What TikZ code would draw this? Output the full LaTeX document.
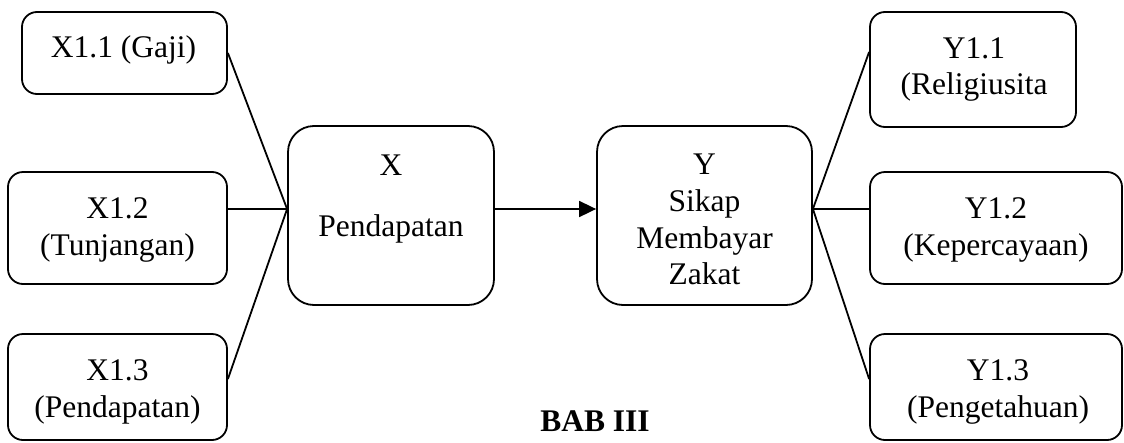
\documentclass[tikz,border=0pt]{standalone}
\usepackage{fontspec}
\setmainfont{Liberation Serif}
\usetikzlibrary{arrows.meta}
\begin{document}
\begin{tikzpicture}[x=1pt,y=-1pt,
  line width=1.8pt,
  sbox/.style={draw, rounded corners=15pt, inner sep=0pt},
  bbox/.style={draw, rounded corners=26pt, inner sep=0pt},
  txt/.style={align=center, inner sep=0pt, font=\fontsize{31.5}{36.7}\selectfont},
  link/.style={line width=1.8pt},
  flow/.style={line width=1.8pt, -{Triangle[length=17pt,width=16pt]}},
]
\useasboundingbox (0,0) rectangle (1124,442);

% indicator boxes of X
\node[sbox, minimum width=205pt, minimum height=82pt]  (x11) at (124.5,53)  {};
\node[sbox, minimum width=219pt, minimum height=112pt] (x12) at (117.5,228) {};
\node[sbox, minimum width=219pt, minimum height=106pt] (x13) at (117.5,387) {};
% main variables
\node[bbox, minimum width=206pt, minimum height=179pt] (x) at (391,215.5)   {};
\node[bbox, minimum width=215pt, minimum height=179pt] (y) at (704.5,215.5) {};
% indicator boxes of Y
\node[sbox, minimum width=206pt, minimum height=115pt] (y11) at (973,69.5) {};
\node[sbox, minimum width=252pt, minimum height=112pt] (y12) at (996,228)  {};
\node[sbox, minimum width=252pt, minimum height=106pt] (y13) at (996,387)  {};

% labels
\node[txt] (tx11) at (123.5,50)  {X1.1 (Gaji)};
\node[txt] (tx12) at (117.5,230) {X1.2\\(Tunjangan)};
\node[txt] (tx13) at (117.5,392) {X1.3\\(Pendapatan)};
\node[txt] (tx)   at (391,199)   {X\\[25pt]Pendapatan};
\node[txt] (ty)   at (704.5,219.5) {Y\\Sikap\\Membayar\\Zakat};
\node[txt] (ty11) at (974,69.5)  {Y1.1\\(Religiusita};
\node[txt] (ty12) at (996,230)   {Y1.2\\(Kepercayaan)};
\node[txt] (ty13) at (998,392)   {Y1.3\\(Pengetahuan)};
\node[txt, font=\fontsize{31.5}{36.7}\selectfont\bfseries, anchor=base] (bab) at (595,431) {BAB III};

% connectors
\coordinate (xin)  at ([yshift=6.5pt]x.west);
\coordinate (yout) at (y.east |- xin);
\draw[link] (x11.east) -- (xin);
\draw[link] (x12.east |- xin) -- (xin);
\draw[link] ([yshift=8pt]x13.east) -- (xin);
\draw[flow] (x.east |- xin) -- (y.west |- xin);
\draw[link] (yout) -- ([yshift=17.5pt]y11.west);
\draw[link] (yout) -- (y12.west |- yout);
\draw[link] (yout) -- ([yshift=8pt]y13.west);
\end{tikzpicture}
\end{document}
